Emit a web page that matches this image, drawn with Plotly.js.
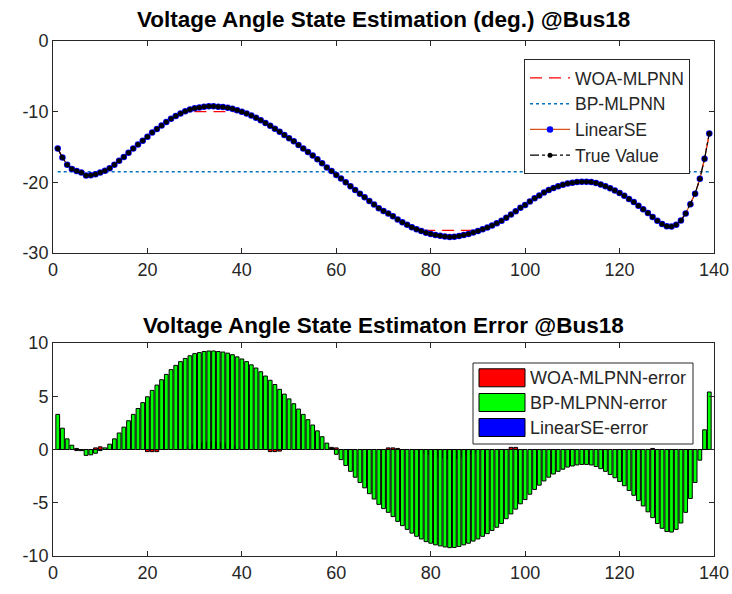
<!DOCTYPE html>
<html>
<head>
<meta charset="utf-8">
<script src="https://cdn.plot.ly/plotly-3.0.1.min.js"></script>
<style>html,body{margin:0;padding:0;background:#fff;}#chart{width:732px;height:594px;}</style>
</head>
<body>
<div id="chart"></div>
<script>
// ---------------- data ----------------
const sampleIndex = Array.from({length: 139}, (_, i) => i + 1);

const trueValue = [
-15.2,-16.5,-17.5,-18.1,-18.4,-18.6,-19.05,-19.0,-18.85,-18.6,
-18.35,-18.0,-17.5,-16.95,-16.4,-15.8,-15.2,-14.65,-14.1,-13.55,
-12.95,-12.45,-11.95,-11.45,-11.0,-10.6,-10.25,-9.95,-9.7,-9.5,
-9.4,-9.3,-9.25,-9.25,-9.3,-9.35,-9.45,-9.6,-9.8,-10.0,
-10.25,-10.55,-10.85,-11.2,-11.6,-12.0,-12.4,-12.85,-13.3,-13.75,
-14.2,-14.7,-15.2,-15.7,-16.2,-16.75,-17.3,-17.9,-18.4,-18.95,
-19.45,-20.0,-20.55,-21.1,-21.6,-22.1,-22.65,-23.15,-23.65,-24.05,
-24.4,-24.8,-25.25,-25.65,-26.0,-26.35,-26.65,-26.9,-27.15,-27.3,
-27.45,-27.55,-27.65,-27.72,-27.7,-27.6,-27.45,-27.3,-27.1,-26.9,
-26.65,-26.4,-26.1,-25.8,-25.45,-25.0,-24.55,-24.1,-23.6,-23.2,
-22.7,-22.25,-21.85,-21.45,-21.1,-20.8,-20.55,-20.35,-20.15,-20.05,
-19.95,-19.9,-19.9,-19.95,-20.1,-20.3,-20.55,-20.85,-21.15,-21.5,
-21.9,-22.35,-22.8,-23.3,-23.8,-24.35,-24.9,-25.45,-25.9,-26.2,
-26.25,-26.0,-25.4,-24.4,-23.1,-21.6,-19.5,-16.65,-13.1];

const woaValue = [
-15.2,-16.5,-17.5,-18.1,-18.3,-18.5,-19.05,-19.0,-19.0,-18.85,
-18.35,-18.0,-17.5,-16.95,-16.4,-15.8,-15.2,-14.65,-14.1,-13.35,
-12.75,-12.25,-11.95,-11.45,-11.0,-10.6,-10.25,-9.95,-10.0,-10.0,
-10.0,-10.0,-10.0,-10.0,-10.0,-10.0,-10.0,-10.0,-10.0,-10.0,
-10.25,-10.55,-10.85,-11.2,-11.6,-11.8,-12.2,-12.7,-13.3,-13.75,
-14.2,-14.7,-15.2,-15.7,-16.2,-16.75,-17.3,-17.9,-18.6,-19.1,
-19.45,-20.0,-20.55,-21.1,-21.6,-22.1,-22.65,-23.15,-23.65,-24.05,
-24.55,-24.95,-25.35,-25.65,-26.0,-26.35,-26.65,-26.8,-26.8,-26.8,
-26.8,-26.8,-26.8,-26.8,-26.8,-26.8,-26.8,-26.8,-26.8,-26.8,
-26.65,-26.4,-26.1,-25.8,-25.45,-25.0,-24.75,-24.3,-23.6,-23.2,
-22.7,-22.25,-21.85,-21.45,-21.1,-20.8,-20.55,-20.35,-20.15,-20.05,
-19.95,-19.9,-19.9,-19.95,-20.1,-20.3,-20.55,-20.85,-21.15,-21.5,
-21.9,-22.35,-22.8,-23.3,-23.8,-24.35,-25.0,-25.45,-25.9,-26.2,
-26.25,-26.0,-25.4,-24.4,-23.1,-21.6,-19.5,-16.65,-13.1];

const bpValue = [
-18.5,-18.5,-18.5,-18.5,-18.5,-18.5,-18.5,-18.5,-18.5,-18.5,
-18.5,-18.5,-18.5,-18.5,-18.5,-18.5,-18.5,-18.5,-18.5,-18.5,
-18.5,-18.5,-18.5,-18.5,-18.5,-18.5,-18.5,-18.5,-18.5,-18.5,
-18.5,-18.5,-18.5,-18.5,-18.5,-18.5,-18.5,-18.5,-18.5,-18.5,
-18.5,-18.5,-18.5,-18.5,-18.5,-18.5,-18.5,-18.5,-18.5,-18.5,
-18.5,-18.5,-18.5,-18.5,-18.5,-18.5,-18.5,-18.5,-18.5,-18.5,
-18.5,-18.5,-18.5,-18.5,-18.5,-18.5,-18.5,-18.5,-18.5,-18.5,
-18.5,-18.5,-18.5,-18.5,-18.5,-18.5,-18.5,-18.5,-18.5,-18.5,
-18.5,-18.5,-18.5,-18.5,-18.5,-18.5,-18.5,-18.5,-18.5,-18.5,
-18.5,-18.5,-18.5,-18.5,-18.5,-18.5,-18.5,-18.5,-18.5,-18.5,
-18.5,-18.5,-18.5,-18.5,-18.5,-18.5,-18.5,-18.5,-18.5,-18.5,
-18.5,-18.5,-18.5,-18.5,-18.5,-18.5,-18.5,-18.5,-18.5,-18.5,
-18.5,-18.5,-18.5,-18.5,-18.5,-18.5,-18.5,-18.5,-18.5,-18.5,
-18.5,-18.5,-18.5,-18.5,-18.5,-18.5,-18.5,-18.5,-18.5];

const linearSEValue = [
-15.2,-16.5,-17.5,-18.1,-18.4,-18.6,-19.05,-19.0,-18.85,-18.6,
-18.35,-18.0,-17.5,-16.95,-16.4,-15.8,-15.2,-14.65,-14.1,-13.55,
-12.95,-12.45,-11.95,-11.45,-11.0,-10.6,-10.25,-9.95,-9.7,-9.5,
-9.4,-9.3,-9.25,-9.25,-9.3,-9.35,-9.45,-9.6,-9.8,-10.0,
-10.25,-10.55,-10.85,-11.2,-11.6,-12.0,-12.4,-12.85,-13.3,-13.75,
-14.2,-14.7,-15.2,-15.7,-16.2,-16.75,-17.3,-17.9,-18.4,-18.95,
-19.45,-20.0,-20.55,-21.1,-21.6,-22.1,-22.65,-23.15,-23.65,-24.05,
-24.4,-24.8,-25.25,-25.65,-26.0,-26.35,-26.65,-26.9,-27.15,-27.3,
-27.45,-27.55,-27.65,-27.72,-27.7,-27.6,-27.45,-27.3,-27.1,-26.9,
-26.65,-26.4,-26.1,-25.8,-25.45,-25.0,-24.55,-24.1,-23.6,-23.2,
-22.7,-22.25,-21.85,-21.45,-21.1,-20.8,-20.55,-20.35,-20.15,-20.05,
-19.95,-19.9,-19.9,-19.95,-20.1,-20.3,-20.55,-20.85,-21.15,-21.5,
-21.9,-22.35,-22.8,-23.3,-23.8,-24.35,-24.9,-25.45,-25.9,-26.2,
-26.25,-26.0,-25.4,-24.4,-23.1,-21.6,-19.5,-16.65,-13.1];

const seriesNames = ['WOA-MLPNN', 'BP-MLPNN', 'LinearSE', 'True Value'];
const errorNames = ['WOA-MLPNN-error', 'BP-MLPNN-error', 'LinearSE-error'];
const titleTop = 'Voltage Angle State Estimation (deg.) @Bus18';
const titleBottom = 'Voltage Angle State Estimaton Error @Bus18';
const xTickVals = [0, 20, 40, 60, 80, 100, 120, 140];
const xTickText = ['0', '20', '40', '60', '80', '100', '120', '140'];
const yTopTickVals = [-30, -20, -10, 0];
const yTopTickText = ['-30', '-20', '-10', '0'];
const yBotTickVals = [-10, -5, 0, 5, 10];
const yBotTickText = ['-10', '-5', '0', '5', '10'];

// errors = true value minus estimate
const woaError = trueValue.map((v, i) => +(v - woaValue[i]).toFixed(3));
const bpError = trueValue.map((v, i) => +(v - bpValue[i]).toFixed(3));
const linearSEError = trueValue.map((v, i) => +(v - linearSEValue[i]).toFixed(3));

// ---------------- styling ----------------
const FONT = 'Liberation Sans, Arial, Helvetica, sans-serif';
const AXC = '#262626';
const W = 732, H = 594;
const M = {l: 53, r: 18, t: 41, b: 38};
const PW = W - M.l - M.r, PH = H - M.t - M.b;
const px = x => (x - M.l) / PW;
const py = y => (H - M.b - y) / PH;

const traces = [
  {x: sampleIndex, y: woaValue, name: seriesNames[0], type: 'scatter', mode: 'lines',
   line: {color: '#FF0000', width: 1.2, dash: '12px,7px'}, xaxis: 'x', yaxis: 'y'},
  {x: sampleIndex, y: bpValue, name: seriesNames[1], type: 'scatter', mode: 'lines',
   line: {color: '#0072BD', width: 1.5, dash: 'dot'}, xaxis: 'x', yaxis: 'y'},
  {x: sampleIndex, y: linearSEValue, name: seriesNames[2], type: 'scatter', mode: 'lines+markers',
   line: {color: '#D95319', width: 1.2}, marker: {color: '#0000FF', size: 6.5},
   xaxis: 'x', yaxis: 'y'},
  {x: sampleIndex, y: trueValue, name: seriesNames[3], type: 'scatter', mode: 'lines+markers',
   line: {color: '#000000', width: 1.2, dash: 'dashdot'}, marker: {color: '#000000', size: 5},
   xaxis: 'x', yaxis: 'y'},
  {x: sampleIndex, y: woaError, name: errorNames[0], type: 'bar', width: 0.8, showlegend: false,
   marker: {color: '#FF0000', line: {color: '#000000', width: 1}}, xaxis: 'x2', yaxis: 'y2'},
  {x: sampleIndex, y: bpError, name: errorNames[1], type: 'bar', width: 0.8, showlegend: false,
   marker: {color: '#00FF00', line: {color: '#000000', width: 1}}, xaxis: 'x2', yaxis: 'y2'},
  {x: sampleIndex, y: linearSEError, name: errorNames[2], type: 'bar', width: 0.8, showlegend: false,
   marker: {color: '#0000FF', line: {color: '#000000', width: 1}}, xaxis: 'x2', yaxis: 'y2'}
];

const axisBase = {
  showline: true, linecolor: AXC, linewidth: 1, mirror: 'ticks',
  ticks: 'inside', ticklen: 5, tickcolor: AXC, tickwidth: 1,
  showgrid: false, zeroline: false,
  tickfont: {family: FONT, size: 18, color: AXC}, tickmode: 'array'
};

const swatchColors = ['#FF0000', '#00FF00', '#0000FF'];
const rowCenters = [377.8, 402.5, 427.5];
const shapes = [
  {type: 'rect', xref: 'paper', yref: 'paper', x0: px(473), x1: px(693), y0: py(444), y1: py(363),
   line: {color: AXC, width: 1}, fillcolor: '#FFFFFF'}
];
const annotations = [
  {text: '<b>' + titleTop + '</b>', xref: 'paper', yref: 'paper', x: 0.5, y: py(19),
   xanchor: 'center', yanchor: 'middle', showarrow: false,
   font: {family: FONT, size: 22.5, color: '#000000'}},
  {text: '<b>' + titleBottom + '</b>', xref: 'paper', yref: 'paper', x: 0.5, y: py(325),
   xanchor: 'center', yanchor: 'middle', showarrow: false,
   font: {family: FONT, size: 22.5, color: '#000000'}}
];
errorNames.forEach((nm, i) => {
  const c = rowCenters[i];
  shapes.push({type: 'rect', xref: 'paper', yref: 'paper', x0: px(479), x1: px(525),
    y0: py(c + 9), y1: py(c - 9), line: {color: '#000000', width: 1}, fillcolor: swatchColors[i]});
  annotations.push({text: nm, xref: 'paper', yref: 'paper', x: px(528), y: py(c),
    xanchor: 'left', yanchor: 'middle', showarrow: false,
    font: {family: FONT, size: 18, color: AXC}});
});

const layout = {
  width: W, height: H, margin: M,
  paper_bgcolor: '#FFFFFF', plot_bgcolor: '#FFFFFF',
  font: {family: FONT, color: AXC},
  showlegend: true, barmode: 'overlay',
  xaxis: Object.assign({}, axisBase, {domain: [0, 1], anchor: 'y', range: [0, 140],
    tickvals: xTickVals, ticktext: xTickText}),
  yaxis: Object.assign({}, axisBase, {domain: [py(253), 1], anchor: 'x', range: [-30, 0],
    tickvals: yTopTickVals, ticktext: yTopTickText}),
  xaxis2: Object.assign({}, axisBase, {domain: [0, 1], anchor: 'y2', range: [0, 140],
    tickvals: xTickVals, ticktext: xTickText}),
  yaxis2: Object.assign({}, axisBase, {domain: [0, py(343)], anchor: 'x2', range: [-10, 10],
    tickvals: yBotTickVals, ticktext: yBotTickText}),
  legend: {x: px(524), xanchor: 'left', y: py(59), yanchor: 'top',
    bgcolor: '#FFFFFF', bordercolor: AXC, borderwidth: 1,
    font: {family: FONT, size: 17.5, color: AXC}, itemwidth: 40, tracegroupgap: 0},
  shapes: shapes,
  annotations: annotations
};

Plotly.newPlot('chart', traces, layout, {displayModeBar: false, staticPlot: true});
</script>
</body>
</html>
